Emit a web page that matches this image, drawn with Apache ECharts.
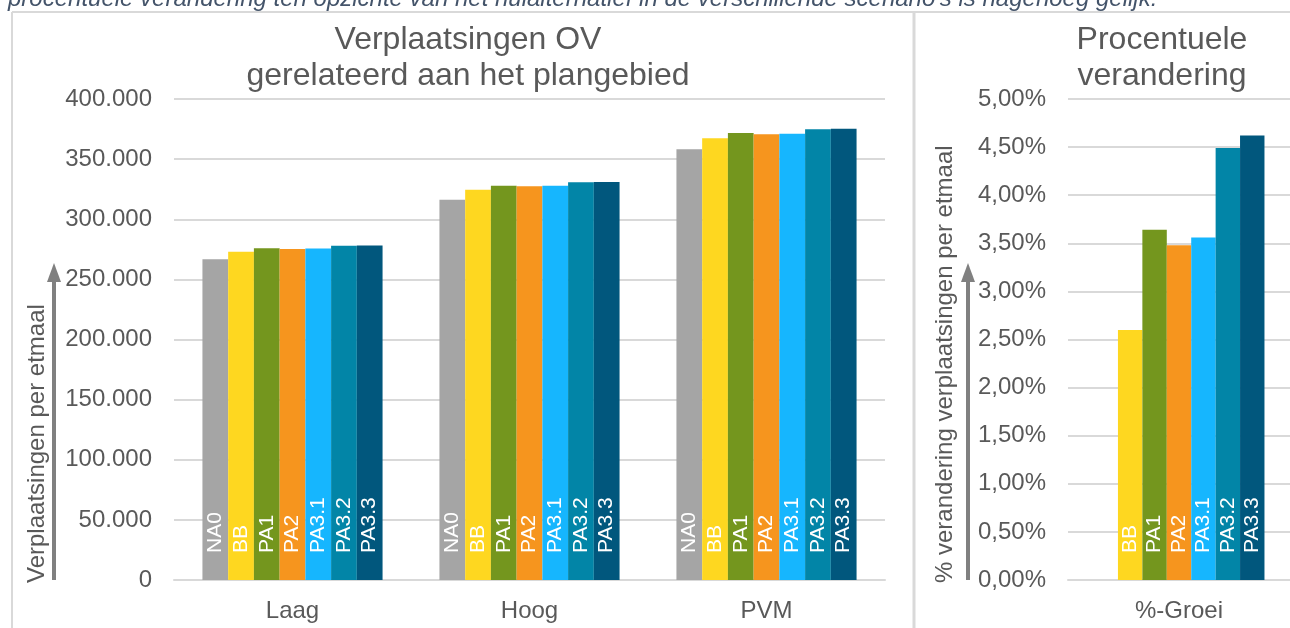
<!DOCTYPE html>
<html>
<head>
<meta charset="utf-8">
<script src="https://cdn.jsdelivr.net/npm/echarts@6/dist/echarts.min.js"></script>
<style>
  html, body { margin: 0; padding: 0; background: #fff; }
  #chart { width: 1290px; height: 628px; }
</style>
</head>
<body>
<div id="chart"></div>
<script>
// data
const categories = ['Laag', 'Hoog', 'PVM'];
const growthCategories = ['%-Groei'];
const scenarios = ['NA0', 'BB', 'PA1', 'PA2', 'PA3.1', 'PA3.2', 'PA3.3'];
const colors = ['#A5A5A5', '#FED720', '#74961E', '#F6951E', '#16B6FE', '#0285A7', '#01577D'];

const NA0 = [266700, 316300, 358200];
const BB = [273000, 324600, 367300];
const PA1 = [275800, 327900, 371700];
const PA2 = [275300, 327400, 370600];
const PA31 = [275600, 327900, 371200];
const PA32 = [278000, 330700, 374800];
const PA33 = [278100, 331000, 375300];
const tripValues = [NA0, BB, PA1, PA2, PA31, PA32, PA33];

// procentuele groei t.o.v. NA0 (NA0 zelf heeft geen balk)
const growth = [null, 2.60, 3.64, 3.48, 3.56, 4.49, 4.62];

const leftTicks = { min: 0, max: 400000, interval: 50000 };
const rightTicks = { min: 0, max: 5, interval: 0.5 };

const textGrey = '#595959';
const lineGrey = '#D9D9D9';
const fontFam = 'Liberation Sans, Arial, sans-serif';

const myChart = echarts.init(document.getElementById('chart'));

const barLabel = {
  show: true,
  position: 'insideBottom',
  rotate: 90,
  align: 'left',
  verticalAlign: 'middle',
  distance: 27,
  color: '#ffffff',
  fontSize: 21,
  fontFamily: fontFam,
  formatter: '{a}'
};

const series = [];
scenarios.forEach((name, i) => {
  series.push({
    name: name,
    type: 'bar',
    xAxisIndex: 0,
    yAxisIndex: 0,
    data: tripValues[i],
    itemStyle: { color: colors[i] },
    barGap: '0%',
    barCategoryGap: '24%',
    label: barLabel
  });
});
scenarios.forEach((name, i) => {
  series.push({
    name: name,
    type: 'bar',
    xAxisIndex: 1,
    yAxisIndex: 1,
    data: [growth[i]],
    itemStyle: { color: colors[i] },
    barGap: '0%',
    barCategoryGap: '23%',
    label: barLabel
  });
});

function catAxis(idx, data) {
  return {
    type: 'category',
    gridIndex: idx,
    data: data,
    axisLine: { lineStyle: { color: lineGrey, width: 2 } },
    axisTick: { show: false },
    axisLabel: { color: textGrey, fontSize: 24, fontFamily: fontFam, margin: 19 }
  };
}

function valAxis(idx, ticks, fmt) {
  return {
    type: 'value',
    gridIndex: idx,
    min: ticks.min,
    max: ticks.max,
    interval: ticks.interval,
    axisLine: { show: false },
    axisTick: { show: false },
    axisLabel: { color: textGrey, fontSize: 24, fontFamily: fontFam, margin: 22, formatter: fmt },
    splitLine: { lineStyle: { color: lineGrey, width: 2 } }
  };
}

const arrowGrey = '#808080';
const nameFont = '24px Liberation Sans, Arial, sans-serif';

myChart.setOption({
  animation: false,
  backgroundColor: '#ffffff',
  title: [
    {
      text: 'Verplaatsingen OV\ngerelateerd aan het plangebied',
      left: 463, top: 17, textAlign: 'center',
      textStyle: { color: textGrey, fontSize: 32, fontWeight: 'normal', fontFamily: fontFam, lineHeight: 36 }
    },
    {
      text: 'Procentuele\nverandering',
      left: 1157, top: 17, textAlign: 'center',
      textStyle: { color: textGrey, fontSize: 32, fontWeight: 'normal', fontFamily: fontFam, lineHeight: 36 }
    }
  ],
  grid: [
    { left: 174, right: 405, top: 99, bottom: 48 },
    { left: 1068, width: 231, top: 99, bottom: 48 }
  ],
  xAxis: [catAxis(0, categories), catAxis(1, growthCategories)],
  yAxis: [
    valAxis(0, leftTicks, v => v === 0 ? '0' : String(v).replace(/\B(?=(\d{3})+(?!\d))/g, '.')),
    valAxis(1, rightTicks, v => v.toFixed(2).replace('.', ',') + '%')
  ],
  series: series,
  graphic: [
    // afgesneden tekstregel boven de figuur
    {
      type: 'text', x: 8, y: -1,
      style: {
        text: "procentuele verandering ten opzichte van het nulalternatief in de verschillende scenario's is nagenoeg gelijk.",
        fill: '#44546A', font: 'italic 24px Liberation Sans, Arial, sans-serif',
        verticalAlign: 'middle', align: 'left'
      }
    },
    // kaders
    { type: 'line', shape: { x1: 12, y1: 12, x2: 1290, y2: 12 }, style: { stroke: lineGrey, lineWidth: 2 } },
    { type: 'line', shape: { x1: 12, y1: 12, x2: 12, y2: 628 }, style: { stroke: lineGrey, lineWidth: 2 } },
    { type: 'line', shape: { x1: 914, y1: 12, x2: 914, y2: 628 }, style: { stroke: lineGrey, lineWidth: 3 } },
    // pijl en astitel links
    { type: 'line', shape: { x1: 54, y1: 580, x2: 54, y2: 278 }, style: { stroke: arrowGrey, lineWidth: 4 } },
    { type: 'polygon', shape: { points: [[54, 263], [47, 282], [61, 282]] }, style: { fill: arrowGrey } },
    {
      type: 'text', x: 37, y: 583, rotation: Math.PI / 2,
      style: { text: 'Verplaatsingen per etmaal', fill: textGrey, font: nameFont, align: 'left', verticalAlign: 'middle' }
    },
    // pijl en astitel rechts
    { type: 'line', shape: { x1: 968, y1: 580, x2: 968, y2: 278 }, style: { stroke: arrowGrey, lineWidth: 4 } },
    { type: 'polygon', shape: { points: [[968, 263], [961, 282], [975, 282]] }, style: { fill: arrowGrey } },
    {
      type: 'text', x: 945, y: 583, rotation: Math.PI / 2,
      style: { text: '% verandering verplaatsingen per etmaal', fill: textGrey, font: nameFont, align: 'left', verticalAlign: 'middle' }
    }
  ]
});
</script>
</body>
</html>
